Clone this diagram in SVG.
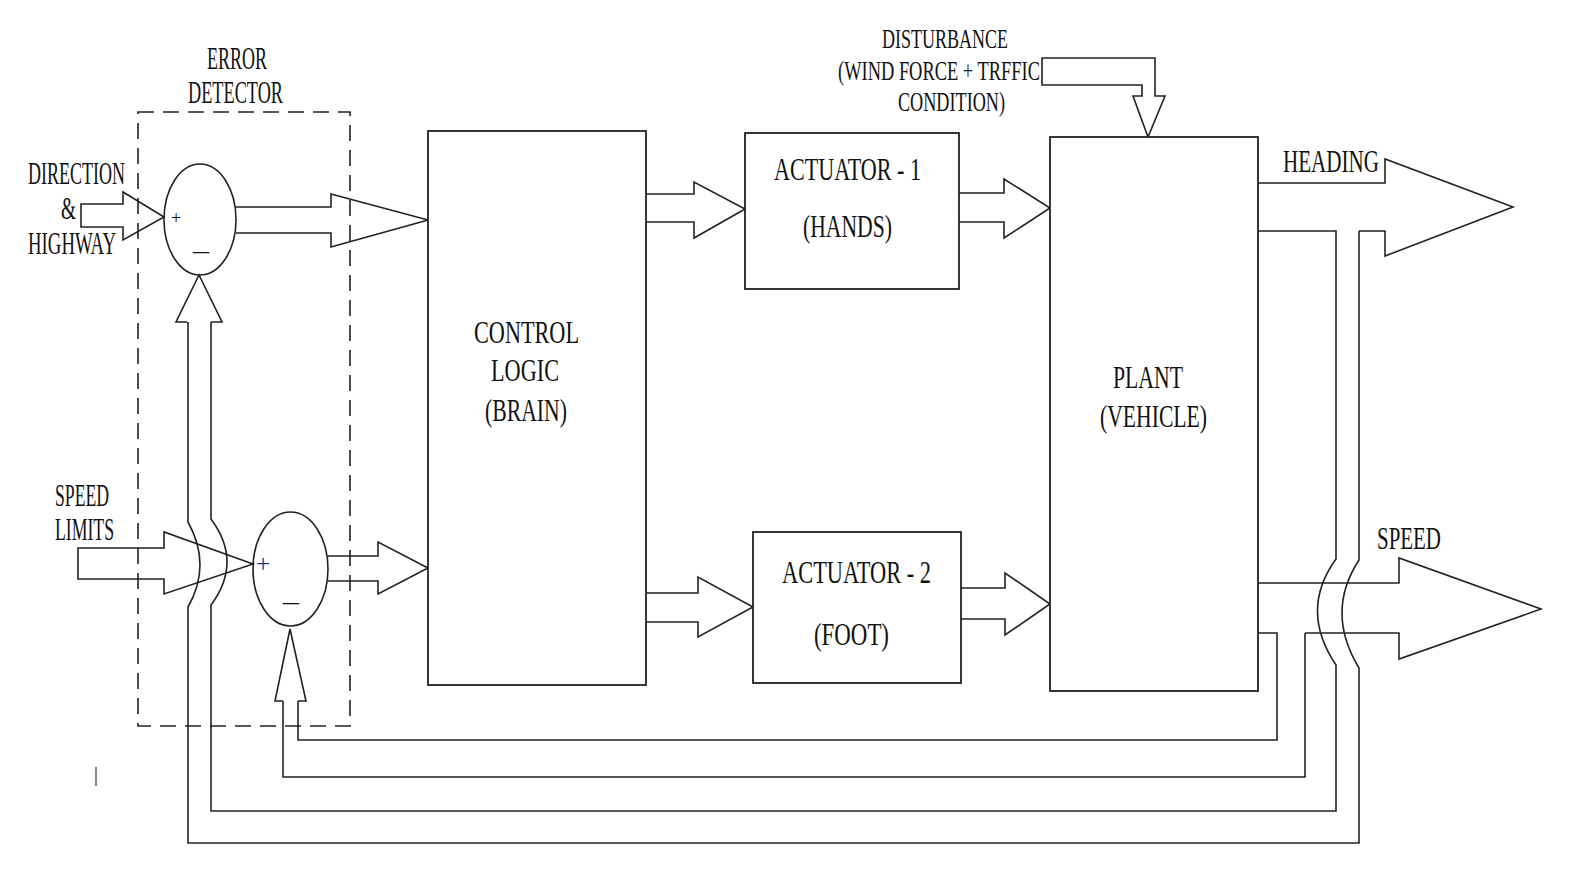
<svg xmlns="http://www.w3.org/2000/svg" width="1580" height="872" viewBox="0 0 1580 872">
<style>
.ln{fill:none;stroke:#222;stroke-width:1.6;stroke-linejoin:miter}
.bx{fill:#fff;stroke:#222;stroke-width:1.8}
.dash{fill:none;stroke:#222;stroke-width:1.6;stroke-dasharray:16 9}
.t{font-family:"Liberation Serif","Times New Roman",serif;font-size:31px;fill:#111}
.d{font-family:"Liberation Serif","Times New Roman",serif;font-size:28px;fill:#111}
.s{font-family:"Liberation Serif","Times New Roman",serif;fill:#111}
</style>
<rect width="1580" height="872" fill="#fff"/>

<g id="error-detector">
<rect class="dash" x="138" y="112" width="212" height="614"/>
<text class="t" x="207" y="69" textLength="60" lengthAdjust="spacingAndGlyphs">ERROR</text>
<text class="t" x="188" y="103" textLength="95" lengthAdjust="spacingAndGlyphs">DETECTOR</text>
</g>

<g id="labels-inputs">
<text class="t" x="28" y="184" textLength="97" lengthAdjust="spacingAndGlyphs">DIRECTION</text>
<text class="t" x="61" y="219" textLength="15" lengthAdjust="spacingAndGlyphs">&amp;</text>
<text class="t" x="28" y="254" textLength="88" lengthAdjust="spacingAndGlyphs">HIGHWAY</text>
<text class="t" x="55" y="506" textLength="54" lengthAdjust="spacingAndGlyphs">SPEED</text>
<text class="t" x="55" y="540" textLength="59" lengthAdjust="spacingAndGlyphs">LIMITS</text>
</g>

<g id="connectors">
<polygon class="ln" points="81,204 123,204 123,192 164,217 123,240 123,227 81,227"/>
<polygon class="ln" points="78,548 164,548 164,532 253,564 164,594 164,579 78,579"/>
<polyline class="ln" points="236,207 331,207 331,194 428,220 331,247 331,233 236,233"/>
<polyline class="ln" points="328,556 378,556 378,542 428,568 378,594 378,581 328,581"/>
<polyline class="ln" points="646,194 694,194 694,182 745,209 694,238 694,222 646,222"/>
<polyline class="ln" points="646,593 698,593 698,577 753,607 698,637 698,622 646,622"/>
<polyline class="ln" points="959,193 1004,193 1004,179 1050,208 1004,238 1004,222 959,222"/>
<polyline class="ln" points="961,588 1005,588 1005,573 1050,604 1005,635 1005,619 961,619"/>
<polygon class="ln" points="1042,85 1042,58 1155,58 1155,96 1165,96 1148,137 1133,96 1142,96 1142,85"/>
<path class="ln" d="M1258,183 L1385,183 L1385,159 L1513,207 L1385,256 L1385,231 L1359,231"/>
<path class="ln" d="M1258,583 L1399,583 L1399,558 L1541,609 L1399,659 L1399,633 L1305,633"/>
<polyline class="ln" points="187,322 176,322 199,275 222,322 211,322"/>
<polyline class="ln" points="283,701 275,701 290,629 306,701 298,701"/>
<path class="ln" d="M1359,231 L1359,560 Q1325,612 1359,668 L1359,843 L188,843 L188,607 Q212,565 188,522 L188,322"/>
<path class="ln" d="M1258,231 L1336,231 L1336,559 Q1299,610 1336,665 L1336,811 L211,811 L211,605 Q243,562 211,519 L211,322"/>
<path class="ln" d="M1305,633 L1305,777 L283,777 L283,701"/>
<path class="ln" d="M1258,633 L1277,633 L1277,740 L298,740 L298,701"/>
</g>

<g id="junction-1">
<ellipse class="ln" cx="200" cy="219.5" rx="36" ry="55.5" fill="#fff"/>
<text class="s" x="176" y="224" font-size="18" text-anchor="middle">+</text>
<text class="s" x="193" y="258" font-size="24" textLength="16" lengthAdjust="spacingAndGlyphs">–</text>
</g>

<g id="junction-2">
<ellipse class="ln" cx="290.5" cy="569" rx="37.5" ry="57"/>
<text class="s" x="263" y="572" font-size="26" text-anchor="middle" style="fill:#1a3a8a">+</text>
<text class="s" x="283" y="609" font-size="24" textLength="16" lengthAdjust="spacingAndGlyphs">–</text>
</g>

<g id="control-logic">
<rect class="bx" x="428" y="131" width="218" height="554"/>
<text class="t" x="474" y="343" textLength="105" lengthAdjust="spacingAndGlyphs">CONTROL</text>
<text class="t" x="491" y="381" textLength="68" lengthAdjust="spacingAndGlyphs">LOGIC</text>
<text class="t" x="485" y="421" textLength="82" lengthAdjust="spacingAndGlyphs">(BRAIN)</text>
</g>

<g id="actuator-1">
<rect class="bx" x="745" y="133" width="214" height="156"/>
<text class="t" x="774" y="180" textLength="147" lengthAdjust="spacingAndGlyphs">ACTUATOR - 1</text>
<text class="t" x="803" y="237" textLength="89" lengthAdjust="spacingAndGlyphs">(HANDS)</text>
</g>

<g id="actuator-2">
<rect class="bx" x="753" y="532" width="208" height="151"/>
<text class="t" x="782" y="583" textLength="149" lengthAdjust="spacingAndGlyphs">ACTUATOR - 2</text>
<text class="t" x="814" y="645" textLength="75" lengthAdjust="spacingAndGlyphs">(FOOT)</text>
</g>

<g id="plant">
<rect class="bx" x="1050" y="137" width="208" height="554"/>
<text class="t" x="1113" y="388" textLength="70" lengthAdjust="spacingAndGlyphs">PLANT</text>
<text class="t" x="1100" y="427" textLength="107" lengthAdjust="spacingAndGlyphs">(VEHICLE)</text>
</g>

<g id="disturbance-label">
<text class="d" x="882" y="48" textLength="126" lengthAdjust="spacingAndGlyphs">DISTURBANCE</text>
<text class="d" x="838" y="80" textLength="202" lengthAdjust="spacingAndGlyphs">(WIND FORCE + TRFFIC</text>
<text class="d" x="898" y="111" textLength="107" lengthAdjust="spacingAndGlyphs">CONDITION)</text>
</g>

<g id="output-labels">
<text class="t" x="1283" y="172" textLength="96" lengthAdjust="spacingAndGlyphs">HEADING</text>
<text class="t" x="1377" y="549" textLength="64" lengthAdjust="spacingAndGlyphs">SPEED</text>
</g>

<line x1="96" y1="767" x2="96" y2="786" stroke="#555" stroke-width="1.4"/>
</svg>
